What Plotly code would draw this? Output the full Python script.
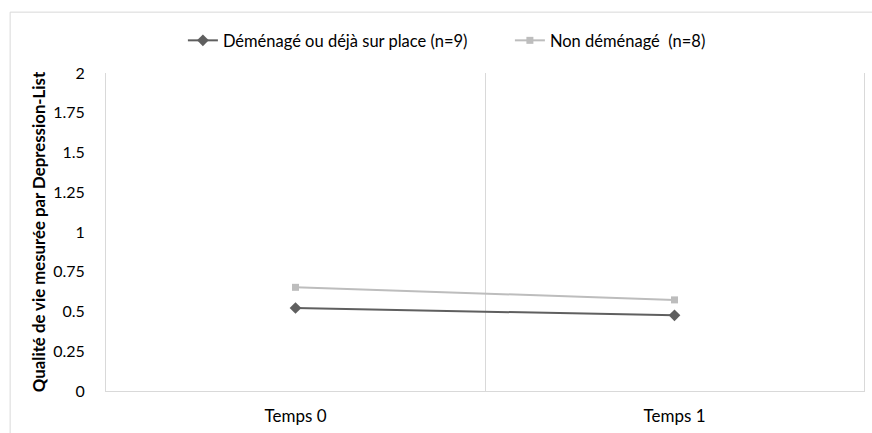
import plotly.graph_objects as go

categories = ["Temps 0", "Temps 1"]
demenage = [0.522, 0.476]
non_demenage = [0.652, 0.573]
series_names = ["Déménagé ou déjà sur place (n=9)", "Non déménagé  (n=8)"]
y_ticks = [0, 0.25, 0.5, 0.75, 1, 1.25, 1.5, 1.75, 2]
y_title = "Qualité de vie mesurée par Depression-List"

FONT = "Lato, Liberation Sans, Arial, sans-serif"
FS = 16.5

fig = go.Figure()
fig.add_trace(go.Scatter(
    x=categories, y=demenage, name=series_names[0], mode="lines+markers",
    line=dict(color="#5f5f5f", width=2),
    marker=dict(symbol="diamond", size=9, color="#5f5f5f"),
))
fig.add_trace(go.Scatter(
    x=categories, y=non_demenage, name=series_names[1], mode="lines+markers",
    line=dict(color="#bdbdbd", width=2),
    marker=dict(symbol="square", size=7, color="#bdbdbd"),
))

W, H = 872, 433
L, R, T, B = 106, 7, 73, 36
pw, ph = W - L - R, H - T - B

def px_to_paper_x(px):
    return (px - L) / pw

def px_to_paper_y(py):
    return (H - B - py) / ph

fig.add_shape(type="rect", xref="paper", yref="paper",
              x0=px_to_paper_x(10), x1=px_to_paper_x(900),
              y0=px_to_paper_y(460), y1=px_to_paper_y(11),
              line=dict(color="#d9d9d9", width=1), fillcolor="rgba(0,0,0,0)", layer="below")

fig.update_layout(
    width=W, height=H,
    margin=dict(l=L, r=R, t=T, b=B),
    paper_bgcolor="white", plot_bgcolor="white",
    font=dict(family=FONT, size=FS, color="#000000"),
    showlegend=True,
    legend=dict(orientation="h", x=px_to_paper_x(183), xanchor="left",
                y=px_to_paper_y(40), yanchor="middle",
                font=dict(family=FONT, size=FS, color="#000000"),
                itemwidth=30, entrywidth=282, bgcolor="rgba(0,0,0,0)"),
    xaxis=dict(type="category", categoryarray=categories, range=[-0.5, 1.5],
               showgrid=True, gridcolor="#d9d9d9", gridwidth=1, tickson="boundaries",
               ticks="", showline=True, linecolor="#d9d9d9", linewidth=1,
               zeroline=False, tickfont=dict(family=FONT, size=17, color="#000"),
               ticklabelstandoff=10),
    yaxis=dict(range=[0, 2], tickvals=y_ticks, ticktext=[str(v) for v in y_ticks],
               showgrid=False, zeroline=False, showline=True, mirror=True,
               linecolor="#d9d9d9", linewidth=1, ticks="",
               tickfont=dict(family=FONT, size=16, color="#000"),
               ticklabelstandoff=17,
               title=dict(text="<b>" + y_title + "</b>", standoff=3,
                          font=dict(family=FONT, size=16.8, color="#000"))),
)

fig.write_html("out.html", config={"displayModeBar": False},
               post_script="document.body.style.margin='0';")
